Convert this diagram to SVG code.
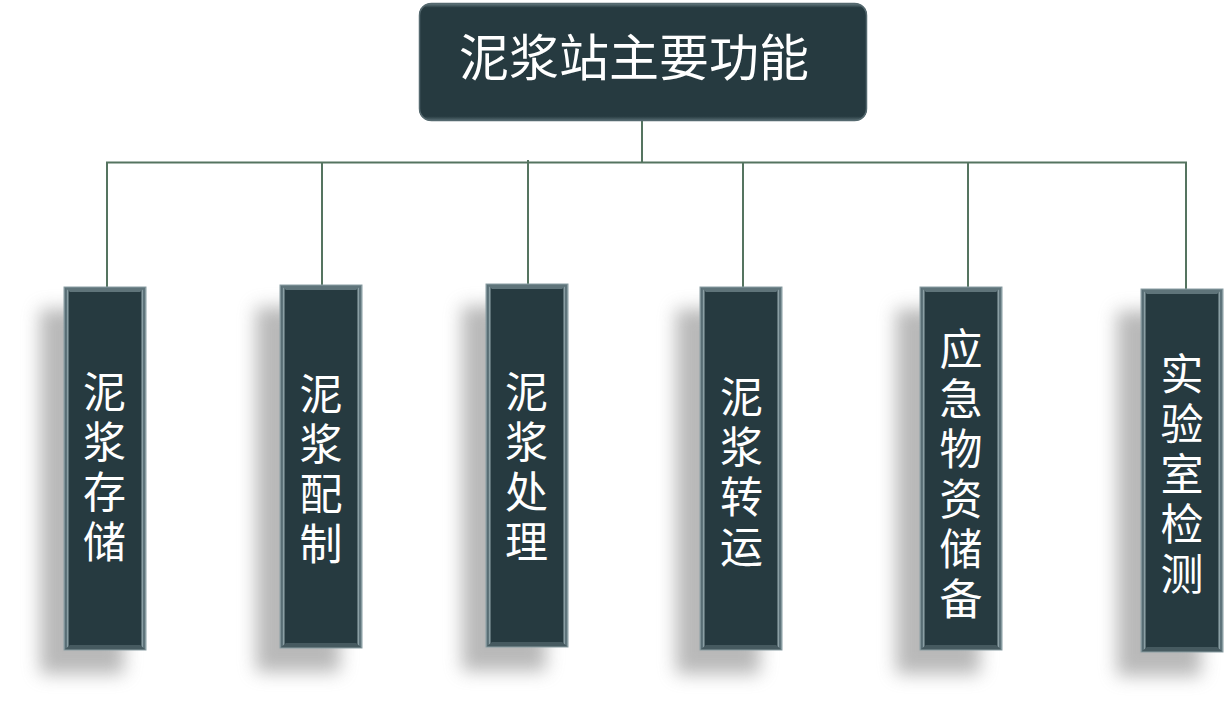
<svg xmlns="http://www.w3.org/2000/svg" xmlns:xlink="http://www.w3.org/1999/xlink" width="1229" height="705" viewBox="0 0 1229 705">
<style>
.conn{stroke:#557460;stroke-width:2;fill:none}
.lbl{font-family:"Noto Sans CJK SC","Noto Sans",sans-serif;font-size:43px;fill:#ffffff;writing-mode:vertical-rl;letter-spacing:7px}
.title{font-family:"Noto Sans CJK SC","Noto Sans",sans-serif;font-size:50px;fill:#ffffff;text-anchor:middle}
</style>
<defs>
<filter id="blur" x="-50%" y="-20%" width="200%" height="140%"><feGaussianBlur stdDeviation="9"/></filter>
<linearGradient id="side" x1="0" y1="0" x2="1" y2="0">
<stop offset="0" stop-color="#7f9398"/>
<stop offset="0.025" stop-color="#4a6068"/>
<stop offset="0.045" stop-color="#93a7ac"/>
<stop offset="0.065" stop-color="#263a40"/>
<stop offset="0.935" stop-color="#263a40"/>
<stop offset="0.955" stop-color="#93a7ac"/>
<stop offset="0.975" stop-color="#4a6068"/>
<stop offset="1" stop-color="#98abb0"/>
</linearGradient>
<g id="col">
<rect x="-24" y="22" width="84" height="365" fill="#8a8a8a" opacity="0.6" filter="url(#blur)"/>
<rect x="0" y="0" width="82" height="363" fill="url(#side)"/>
<polygon points="0,0 82,0 76,5 6,5" fill="#5f747a"/>
<polygon points="0,363 82,363 76,358 6,358" fill="#465a60"/>
<rect x="0" y="0" width="82" height="363" fill="none" stroke="#8a9ea3" stroke-width="1"/>
</g>
<linearGradient id="topg" x1="0" y1="0" x2="0" y2="1">
<stop offset="0" stop-color="#6d8288"/>
<stop offset="0.04" stop-color="#263a40"/>
<stop offset="0.96" stop-color="#263a40"/>
<stop offset="1" stop-color="#5a6f75"/>
</linearGradient>
</defs>

<g id="connectors">
<line class="conn" x1="642" y1="121" x2="642" y2="162.5"/>
<line class="conn" x1="106" y1="162.5" x2="1187" y2="162.5"/>
<line class="conn" x1="107" y1="162" x2="107" y2="287"/>
<line class="conn" x1="322" y1="162" x2="322" y2="285"/>
<line class="conn" x1="528" y1="160" x2="528" y2="284"/>
<line class="conn" x1="743" y1="162" x2="743" y2="287"/>
<line class="conn" x1="968" y1="162" x2="968" y2="287"/>
<line class="conn" x1="1186" y1="162" x2="1186" y2="289"/>
</g>

<g id="node-top">
<rect x="419" y="3" width="448" height="118" rx="12" ry="12" fill="url(#topg)"/>
<rect x="419.5" y="3.5" width="447" height="117" rx="12" ry="12" fill="none" stroke="#55696f" stroke-width="1.5"/>
<text class="title" x="634" y="76">泥浆站主要功能</text>
</g>

<g id="node-1">
<use xlink:href="#col" x="64" y="287"/>
<text class="lbl" x="104.5" y="370">泥浆存储</text>
</g>
<g id="node-2">
<use xlink:href="#col" x="280" y="285"/>
<text class="lbl" x="321" y="372">泥浆配制</text>
</g>
<g id="node-3">
<use xlink:href="#col" x="486" y="284"/>
<text class="lbl" x="526.5" y="370">泥浆处理</text>
</g>
<g id="node-4">
<use xlink:href="#col" x="700" y="287"/>
<text class="lbl" x="741.5" y="375">泥浆转运</text>
</g>
<g id="node-5">
<use xlink:href="#col" x="920" y="287"/>
<text class="lbl" x="961" y="327">应急物资储备</text>
</g>
<g id="node-6">
<use xlink:href="#col" x="1141" y="289"/>
<text class="lbl" x="1182" y="352">实验室检测</text>
</g>
</svg>
